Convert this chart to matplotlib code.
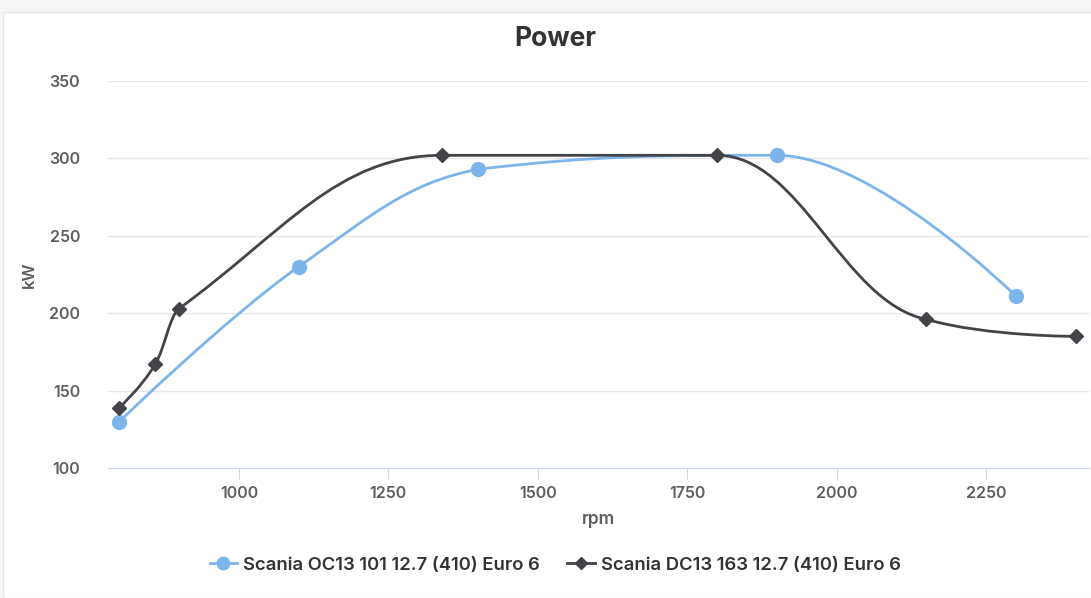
import numpy as np
import matplotlib
matplotlib.use("Agg")
import matplotlib.pyplot as plt
from matplotlib.path import Path
from matplotlib.patches import PathPatch, Rectangle
from matplotlib.lines import Line2D

plt.rcParams['font.family'] = ['Inter', 'DejaVu Sans']

# data
oc13_rpm = [800, 1100, 1400, 1900, 2300]
oc13_kw = [130, 230, 293, 302, 211]
dc13_rpm = [800, 860, 900, 1340, 1800, 2150, 2400]
dc13_kw = [139, 167, 203, 302, 302, 196, 185]
series_names = ["Scania OC13 101 12.7 (410) Euro 6", "Scania DC13 163 12.7 (410) Euro 6"]
y_ticks = [100, 150, 200, 250, 300, 350]
x_ticks = [1000, 1250, 1500, 1750, 2000, 2250]

BLUE = "#7cb5ec"
DARK = "#434348"


def spline_path(xs, ys, smoothing=1.5):
    # highcharts-like spline: bezier control points around each point
    n = len(xs)
    left = [None] * n
    right = [None] * n
    for i in range(n):
        x, y = xs[i], ys[i]
        if i == 0 or i == n - 1:
            left[i] = (x, y)
            right[i] = (x, y)
            continue
        lx, ly = xs[i - 1], ys[i - 1]
        nx, ny = xs[i + 1], ys[i + 1]
        d = smoothing + 1
        lcx = (smoothing * x + lx) / d
        lcy = (smoothing * y + ly) / d
        rcx = (smoothing * x + nx) / d
        rcy = (smoothing * y + ny) / d
        if rcx != lcx:
            corr = (rcy - lcy) * (rcx - x) / (rcx - lcx) + y - rcy
            lcy += corr
            rcy += corr
        if lcy > ly and lcy > y:
            lcy = max(ly, y)
            rcy = 2 * y - lcy
        elif lcy < ly and lcy < y:
            lcy = min(ly, y)
            rcy = 2 * y - lcy
        if rcy > ny and rcy > y:
            rcy = max(ny, y)
            lcy = 2 * y - rcy
        elif rcy < ny and rcy < y:
            rcy = min(ny, y)
            lcy = 2 * y - rcy
        left[i] = (lcx, lcy)
        right[i] = (rcx, rcy)
    verts = [(xs[0], ys[0])]
    codes = [Path.MOVETO]
    for i in range(1, n):
        verts += [right[i - 1], left[i], (xs[i], ys[i])]
        codes += [Path.CURVE4] * 3
    return Path(verts, codes)


fig = plt.figure(figsize=(10.91, 5.98), dpi=100, facecolor="#f6f6f6")
fig.patches.append(Rectangle((3 / 1091, 0), 1, 1 - 12 / 598, transform=fig.transFigure,
                             facecolor="white", edgecolor="#e8e8e8", lw=1, zorder=-5))

ax = fig.add_axes([108 / 1091, 1 - 468 / 598, 981 / 1091, 387 / 598])
ax.set_zorder(2)
ax.set_facecolor("none")
ax.set_xlim(781, 2422)
ax.set_ylim(100, 350)

ax.set_yticks(y_ticks)
ax.set_xticks(x_ticks)
ax.grid(axis="y", color="#e6e6e6", lw=1)
ax.set_axisbelow(True)
for side in ["top", "right", "left"]:
    ax.spines[side].set_visible(False)
ax.spines["bottom"].set_color("#ccd6eb")
ax.tick_params(axis="y", length=0, pad=20, labelsize=11.5, labelcolor="#5e5e5e")
ax.tick_params(axis="x", length=8, color="#ccd6eb", pad=5, labelsize=11.5, labelcolor="#5e5e5e")
for lab in ax.get_xticklabels() + ax.get_yticklabels():
    lab.set_fontweight("semibold")

for xs, ys, col in [(oc13_rpm, oc13_kw, BLUE), (dc13_rpm, dc13_kw, DARK)]:
    ax.add_patch(PathPatch(spline_path(xs, ys), facecolor="none", edgecolor=col, lw=2,
                           zorder=3, capstyle="round", joinstyle="round"))
ax.plot(oc13_rpm, oc13_kw, "o", color=BLUE, ms=10, zorder=4, clip_on=False)
ax.plot(dc13_rpm, dc13_kw, "D", color=DARK, ms=7, zorder=5, clip_on=False)

ax.set_xlabel("rpm", fontsize=12.5, color="#5e5e5e", fontweight="semibold")
ax.set_ylabel("kW", fontsize=12, color="#5e5e5e", fontweight="semibold")
ax.yaxis.set_label_coords(-71 / 981, 0.5)
ax.xaxis.set_label_coords((598 - 108) / 981, -43 / 387)

fig.text(555 / 1091, 1 - 39 / 598, "Power", ha="center", va="center",
         fontsize=19, fontweight="bold", color="#333333")

handles = [Line2D([], [], color=BLUE, lw=2, marker="o", ms=9),
           Line2D([], [], color=DARK, lw=2, marker="D", ms=6)]
leg = fig.legend(handles, series_names, loc="center", bbox_to_anchor=(555 / 1091, 1 - 565 / 598),
                 ncol=2, frameon=False, fontsize=13.3, handlelength=1.5, columnspacing=1.5,
                 handletextpad=0.3, labelcolor="#333333")
for t in leg.get_texts():
    t.set_fontweight("semibold")

fig.savefig("out.png", dpi=100, facecolor=fig.get_facecolor())
